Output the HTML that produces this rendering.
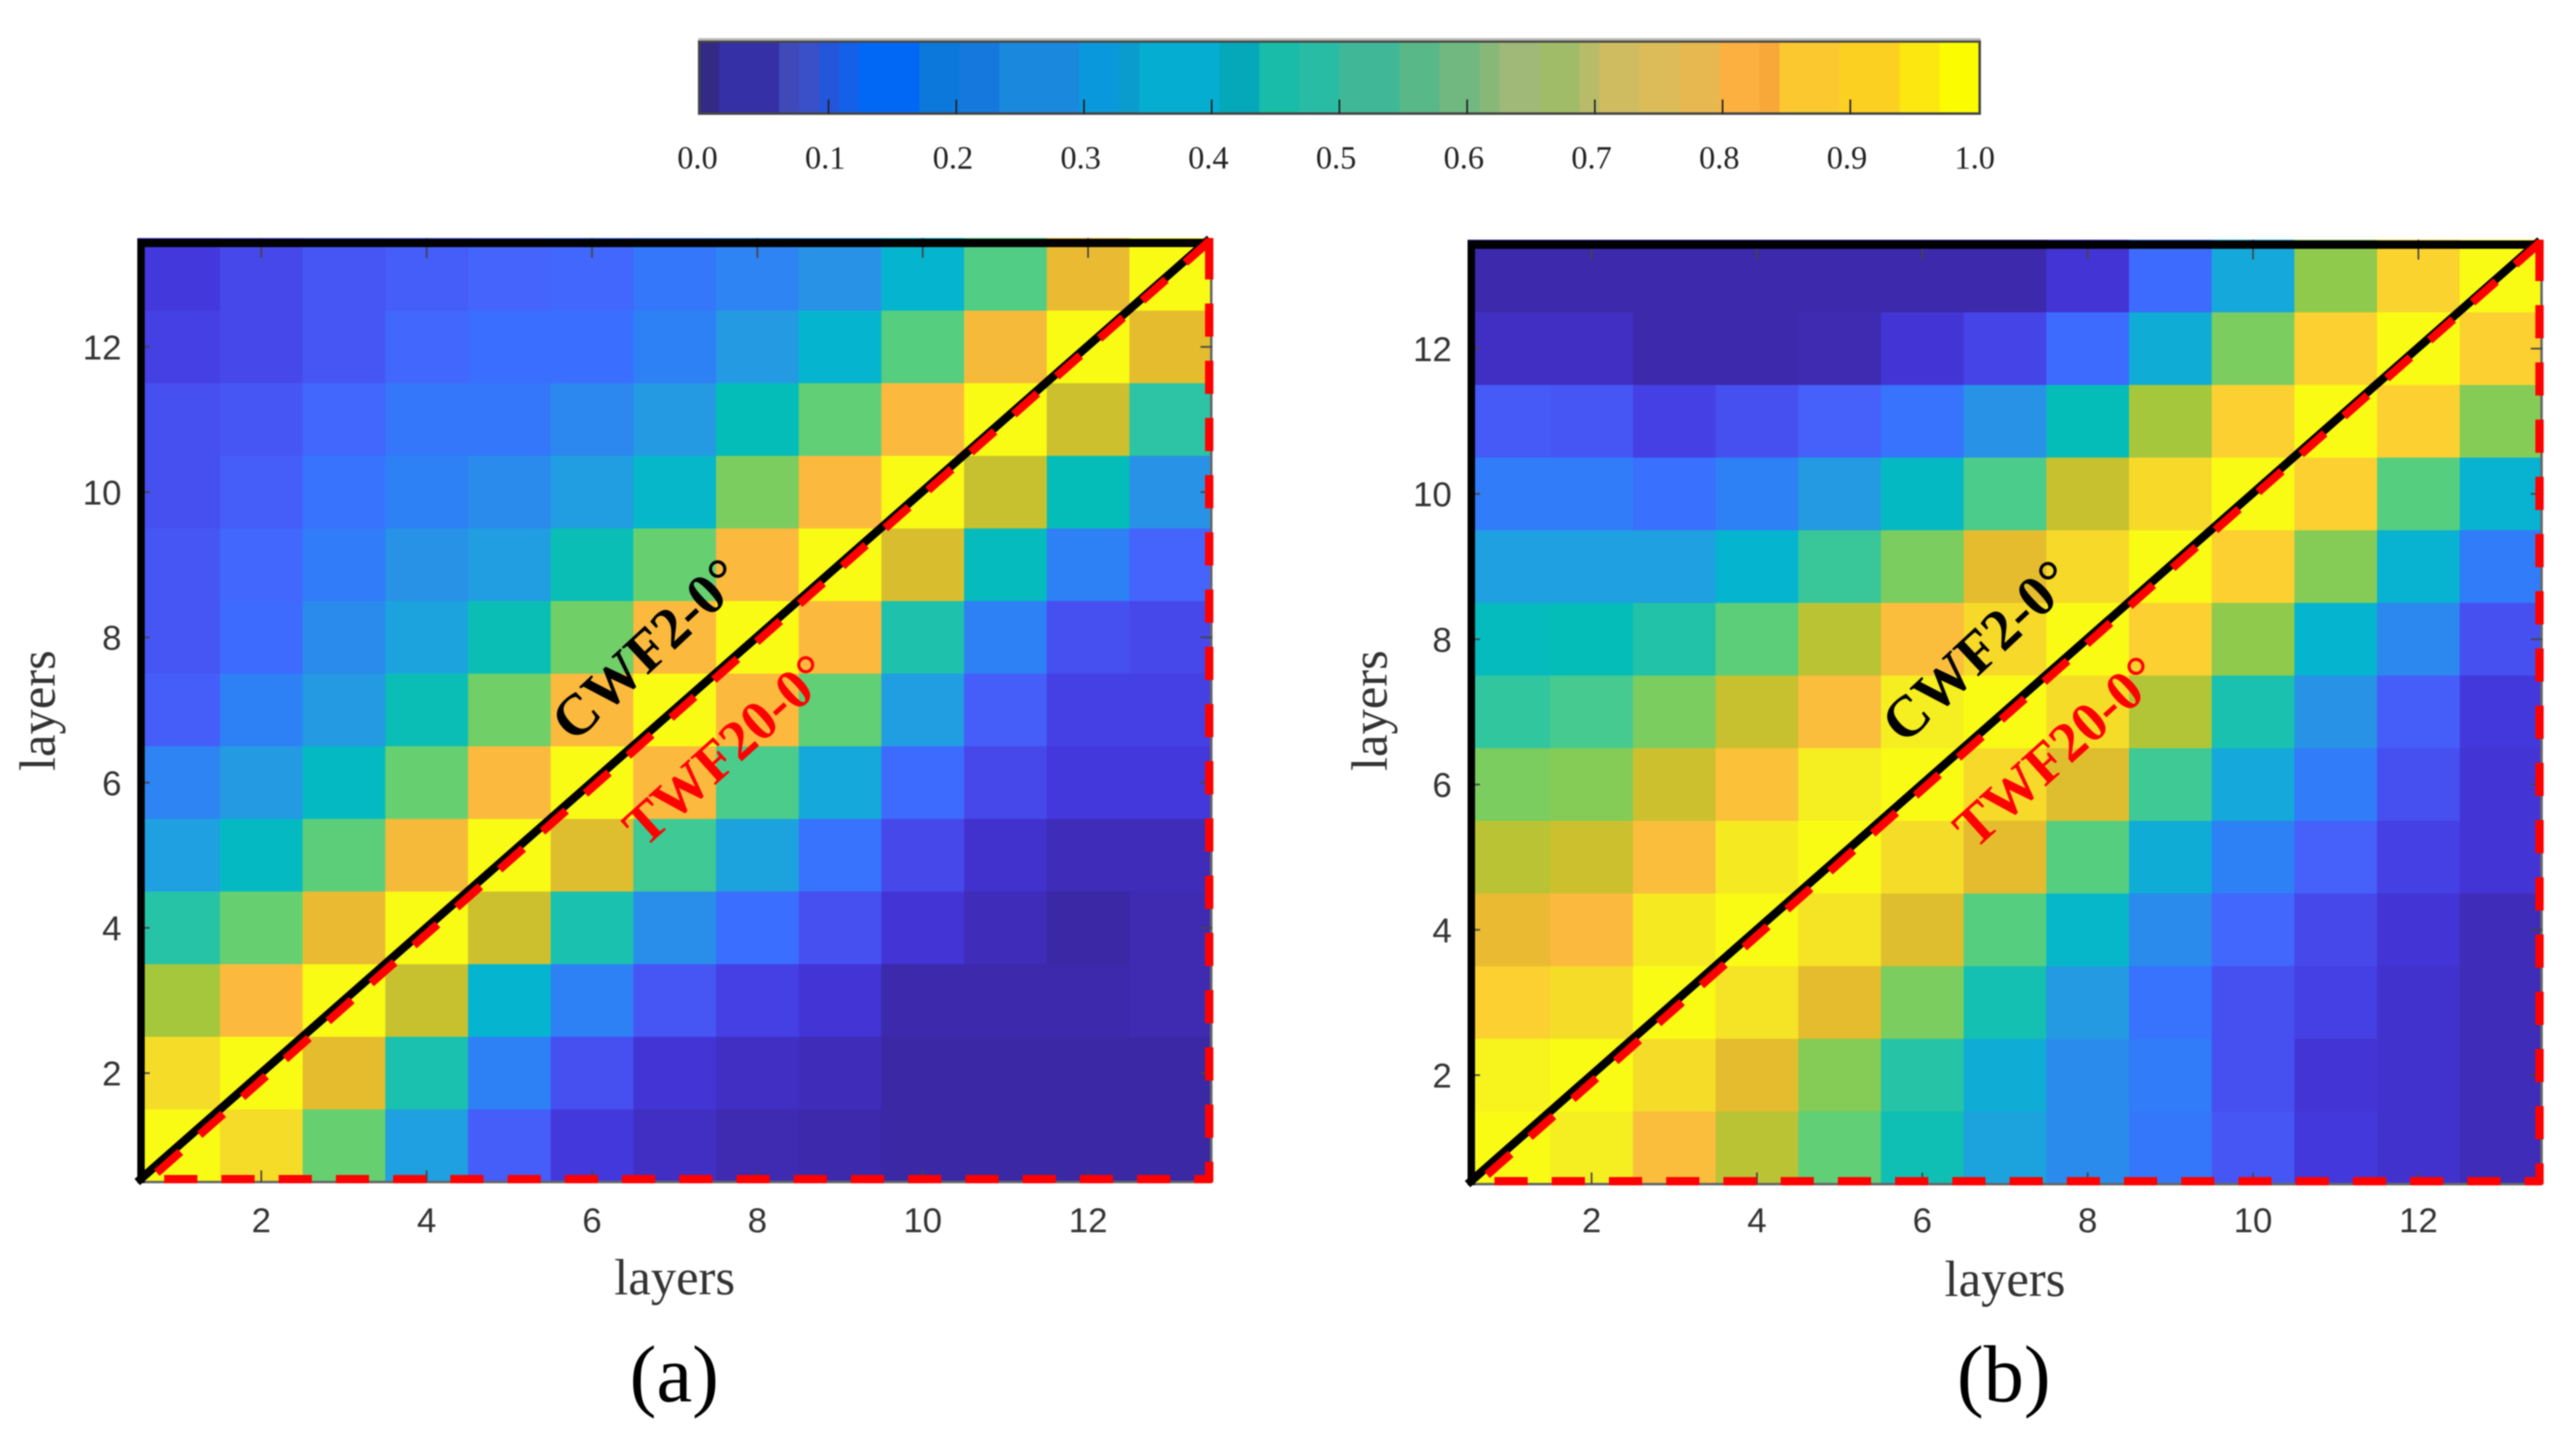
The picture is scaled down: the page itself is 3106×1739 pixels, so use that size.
<!DOCTYPE html>
<html lang="en">
<head>
<meta charset="utf-8">
<title>Layer correlation heatmaps</title>
<style>
html,body{margin:0;padding:0;background:#fff;width:3106px;height:1739px;overflow:hidden}
svg{display:block;filter:blur(0.9px)}
</style>
</head>
<body>
<svg id="figure" xmlns="http://www.w3.org/2000/svg" width="3106" height="1739" viewBox="0 0 3106 1739"></svg>
<script>
// ---------- data ----------
const layerCount = 13;
const xTickValues = [2, 4, 6, 8, 10, 12];
const yTickValues = [2, 4, 6, 8, 10, 12];
const colorbarTickValues = [0.0, 0.1, 0.2, 0.3, 0.4, 0.5, 0.6, 0.7, 0.8, 0.9, 1.0];
const xAxisTitle = 'layers';
const yAxisTitle = 'layers';

// Rows run from layer 13 (top) down to layer 1 (bottom); columns from layer 1 to 13.
const valuesA = [
  [.07,.09,.11,.12,.13,.14,.18,.21,.25,.38,.56,.77,1],
  [.08,.09,.11,.14,.16,.16,.20,.28,.38,.57,.79,1,.76],
  [.10,.11,.14,.18,.18,.22,.28,.42,.59,.80,1,.72,.50],
  [.10,.12,.17,.20,.23,.29,.39,.62,.80,1,.71,.42,.25],
  [.11,.14,.19,.25,.29,.43,.60,.80,1,.74,.41,.20,.13],
  [.11,.15,.23,.31,.43,.61,.80,1,.80,.47,.20,.10,.09],
  [.12,.20,.28,.43,.61,.80,1,.80,.59,.29,.12,.08,.08],
  [.21,.28,.40,.60,.80,1,.80,.55,.33,.15,.09,.07,.07],
  [.30,.40,.58,.79,1,.75,.53,.31,.17,.09,.05,.03,.03],
  [.49,.60,.77,1,.72,.46,.24,.16,.10,.06,.03,0,.02],
  [.66,.80,1,.71,.38,.20,.11,.08,.06,.01,.01,.01,.02],
  [.90,1,.76,.46,.20,.10,.06,.04,.03,0,0,0,0],
  [1,.90,.60,.30,.12,.07,.04,.02,.01,0,0,0,0]
];
const valuesB = [
  [.01,.01,.01,.01,.01,.01,.01,.06,.15,.33,.64,.87,1],
  [.04,.04,.01,.01,.02,.06,.085,.15,.35,.62,.86,1,.86],
  [.115,.11,.08,.10,.125,.17,.25,.42,.66,.86,1,.86,.63],
  [.19,.19,.165,.20,.28,.40,.55,.71,.89,1,.86,.57,.37],
  [.30,.30,.30,.38,.52,.62,.76,.89,1,.86,.63,.37,.19],
  [.41,.42,.48,.58,.69,.81,.89,1,.86,.64,.38,.22,.10],
  [.51,.54,.62,.71,.81,.95,1,.90,.68,.46,.25,.12,.07],
  [.62,.63,.72,.82,.95,1,.89,.75,.53,.33,.19,.10,.06],
  [.69,.72,.81,.94,1,.90,.76,.57,.35,.20,.125,.08,.06],
  [.77,.80,.94,1,.92,.75,.57,.39,.23,.14,.09,.06,.03],
  [.86,.90,1,.92,.76,.62,.45,.28,.17,.10,.08,.05,.03],
  [.97,1,.90,.76,.63,.49,.35,.23,.19,.10,.06,.05,.03],
  [1,.95,.81,.69,.59,.44,.31,.23,.18,.11,.07,.05,.03]
];

// Heatmap colour ramp: [value, r, g, b].
const rampStops = [
  [0,59,40,165],[.03,63,44,184],[.05,66,50,205],[.07,67,56,220],[.09,70,72,234],[.11,70,86,245],
  [.13,68,100,252],[.16,58,110,255],[.20,46,128,245],[.25,40,146,230],[.30,31,160,224],
  [.38,5,181,207],[.42,5,189,184],[.50,44,196,164],[.55,76,204,138],[.60,102,208,112],
  [.66,164,199,60],[.71,199,193,47],[.76,228,188,46],[.80,251,185,62],[.86,251,208,48],
  [.90,245,220,40],[.95,245,238,32],[1,249,251,21]
];
// Colorbar bands as printed: [number of 1/64 steps, colour].
const colorbarBands = [
  [1,'#332a85'],[3,'#3630a6'],[1,'#3f4ab8'],[1,'#3a50c8'],[1,'#2456dc'],[1,'#1460e8'],
  [3,'#0068f5'],[2,'#0c78dc'],[2,'#1478dc'],[4,'#1a88dc'],[2,'#0a98dc'],[1,'#0a9ccc'],
  [4,'#05aed0'],[2,'#05a8b8'],[2,'#18bca8'],[2,'#28bca4'],[3,'#40b898'],[2,'#58b888'],
  [2,'#70b880'],[1,'#88b878'],[2,'#a0b878'],[2,'#a0bc68'],[1,'#b8bc68'],[2,'#d0bc60'],
  [2,'#dcbc58'],[2,'#e8b850'],[2,'#fbb040'],[1,'#f8a838'],[3,'#fcc830'],[3,'#fcd020'],
  [2,'#fce810'],[2,'#fcfc00']
];

// ---------- layout ----------
const panelA = {key:'a', left:165.5, right:1461.5, top:287, bottom:1425.5, values:valuesA, label:'(a)', labelX:813, titleBaseX:66};
const panelB = {key:'b', left:1769.5, right:3065.5, top:289, bottom:1428, values:valuesB, label:'(b)', labelX:2416, titleBaseX:1672};
const panels = [panelA, panelB];
const barBox = {left:843, right:2387, top:50, bottom:137, zero:845, one:2385};

const svg = document.getElementById('figure');
const NS = 'http://www.w3.org/2000/svg';
const SANS = '"Liberation Sans", Arial, sans-serif';
const SERIF = '"Liberation Serif", "Times New Roman", serif';

function make(tag, attrs, text) {
  const node = document.createElementNS(NS, tag);
  for (const k in attrs) node.setAttribute(k, attrs[k]);
  if (text !== undefined) node.textContent = text;
  svg.appendChild(node);
  return node;
}
function rampColor(v) {
  const val = Math.max(0, Math.min(1, v));
  let i = 0;
  while (i < rampStops.length - 2 && val > rampStops[i + 1][0]) i++;
  const a = rampStops[i], b = rampStops[i + 1];
  const f = (val - a[0]) / (b[0] - a[0]);
  const c = [1, 2, 3].map(k => Math.round(a[k] + (b[k] - a[k]) * f));
  return 'rgb(' + c.join(',') + ')';
}
function xScale(p, layer) { return p.left + (layer - 0.5) / layerCount * (p.right - p.left); }
function yScale(p, layer) { return p.bottom - (layer - 0.5) / layerCount * (p.bottom - p.top); }
function barScale(v) { return barBox.zero + v * (barBox.one - barBox.zero); }

// ---------- colorbar ----------
const stepCount = colorbarBands.reduce((s, b) => s + b[0], 0);
let stepsUsed = 0;
colorbarBands.forEach(function (band) {
  const x0 = barBox.left + stepsUsed / stepCount * (barBox.right - barBox.left);
  const x1 = barBox.left + (stepsUsed + band[0]) / stepCount * (barBox.right - barBox.left);
  const el = make('rect', {x:x0, y:barBox.top, width:x1 - x0 + 0.6, height:barBox.bottom - barBox.top, fill:band[1]});
  
  
  stepsUsed += band[0];
});
const barFrame = make('rect', {x:barBox.left, y:barBox.top, width:barBox.right - barBox.left, height:barBox.bottom - barBox.top, fill:'none', stroke:'#444', 'stroke-width':3});


const barTopEdge = make('rect', {x:barBox.left - 1, y:barBox.top - 4, width:barBox.right - barBox.left + 2, height:3, fill:'#b8b8b4'});


colorbarTickValues.forEach(function (v) {
  if (v > 0 && v < 1) {
    const tick = make('line', {x1:barScale(v), x2:barScale(v), y1:barBox.bottom, y2:barBox.bottom - 17, stroke:'#222', 'stroke-width':2});
    
    
  }
  const label = make('text', {x:barScale(v) - 4, y:203, 'text-anchor':'middle', 'font-family':SERIF, 'font-size':39, fill:'#222'}, v.toFixed(1));
  
  
});

// ---------- panels ----------
panels.forEach(function (p) {
  const colW = (p.right - p.left) / layerCount;
  const rowH = (p.bottom - p.top) / layerCount;

  p.values.forEach(function (row, r) {
    const layerY = layerCount - r;
    row.forEach(function (v, c) {
      const layerX = c + 1;
      const cell = make('rect', {
        x:xScale(p, layerX) - colW / 2, y:yScale(p, layerY) - rowH / 2,
        width:colW + 0.5, height:rowH + 0.5, fill:rampColor(v)
      });
      
      
    });
  });

  // thin box on bottom and right
  const bottomLine = make('line', {x1:p.left, x2:p.right, y1:p.bottom, y2:p.bottom, stroke:'#666', 'stroke-width':3});
  
  
  const rightLine = make('line', {x1:p.right - 1, x2:p.right - 1, y1:p.top, y2:p.bottom, stroke:'#666', 'stroke-width':3});
  
  

  // ticks and tick labels
  xTickValues.forEach(function (t) {
    const x = xScale(p, t);
    const tb = make('line', {x1:x, x2:x, y1:p.bottom, y2:p.bottom - 14, stroke:'#444', 'stroke-width':2});
    
    
    const tt = make('line', {x1:x, x2:x, y1:p.top, y2:p.top + 24, stroke:'#444', 'stroke-width':2});
    
    
    const lab = make('text', {x:x, y:1486, 'text-anchor':'middle', 'font-family':SANS, 'font-size':42, fill:'#333'}, String(t));
    
    
  });
  yTickValues.forEach(function (t) {
    const y = yScale(p, t);
    const tl = make('line', {x1:p.left, x2:p.left + 15, y1:y, y2:y, stroke:'#444', 'stroke-width':2});
    
    
    const tr = make('line', {x1:p.right, x2:p.right - 14, y1:y, y2:y, stroke:'#444', 'stroke-width':2});
    
    
    const lab = make('text', {x:p.left - 19, y:y + 15, 'text-anchor':'end', 'font-family':SANS, 'font-size':42, fill:'#333'}, String(t));
    
    
  });

  // black diagonal and thick frame
  const topBar = make('rect', {x:p.left, y:p.top + 1, width:p.right - p.left - 4, height:10, fill:'#000'});
  
  
  const leftBar = make('rect', {x:p.left, y:p.top + 1, width:9, height:p.bottom - p.top, fill:'#000'});
  
  
  const cwfLine = make('line', {x1:p.left, y1:p.bottom, x2:p.right - 3, y2:p.top + 1, stroke:'#000', 'stroke-width':10});
  
  

  // red dashed triangle edges
  const redBottom = make('line', {x1:p.left + 32.5, x2:p.right, y1:p.bottom - 3.5, y2:p.bottom - 3.5, stroke:'#ff0000', 'stroke-width':10, 'stroke-dasharray':'40 29'});
  
  
  const redRight = make('line', {x1:p.right - 3.5, x2:p.right - 3.5, y1:p.top + 10, y2:p.bottom, stroke:'#ff0000', 'stroke-width':10, 'stroke-dasharray':'40 29'});
  
  
  const redCorner = make('line', {x1:p.right - 3.5, x2:p.right - 3.5, y1:p.top, y2:p.top + 11, stroke:'#ff0000', 'stroke-width':10});
  
  
  const redDiag = make('line', {x1:p.left + 23.6, y1:p.bottom - 11.2, x2:p.right, y2:p.top + 1, stroke:'#ff0000', 'stroke-width':10, 'stroke-dasharray':'38 31'});
  
  

  // in-plot labels
  const dx = p.left - panelA.left;
  const cwf = make('text', {x:0, y:0, transform:'translate(' + (796 + dx) + ',' + (800 + (p.top - panelA.top)) + ') rotate(-43)', 'text-anchor':'middle', 'font-family':SERIF, 'font-weight':'bold', 'font-size':70, fill:'#000'}, 'CWF2-0°');
  
  
  const twf = make('text', {x:0, y:0, transform:'translate(' + (891 + dx) + ',' + (921 + (p.top - panelA.top)) + ') rotate(-42)', 'text-anchor':'middle', 'font-family':SERIF, 'font-weight':'bold', 'font-size':68, fill:'#ff0000'}, 'TWF20-0°');
  
  

  // axis titles and panel label
  const xTitle = make('text', {x:(p.left + p.right) / 2, y:1561 + (p.key === 'b' ? 2 : 0), 'text-anchor':'middle', 'font-family':SERIF, 'font-size':61, fill:'#333'}, xAxisTitle);
  
  
  const yTitle = make('text', {x:0, y:0, transform:'translate(' + p.titleBaseX + ',857) rotate(-90)', 'text-anchor':'middle', 'font-family':SERIF, 'font-size':61, fill:'#333'}, yAxisTitle);
  
  
  const panelLabel = make('text', {x:p.labelX, y:1690, 'text-anchor':'middle', 'font-family':SERIF, 'font-size':97, fill:'#000'}, p.label);
  
  
});
</script>
</body>
</html>
